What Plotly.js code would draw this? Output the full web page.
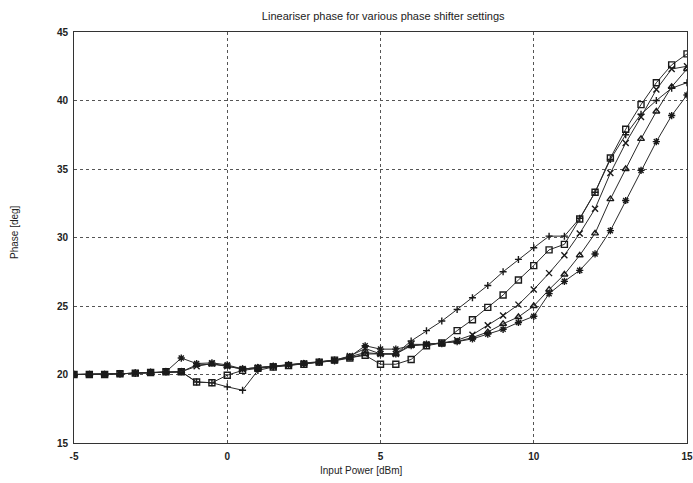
<!DOCTYPE html>
<html>
<head>
<meta charset="utf-8">
<script src="https://cdn.plot.ly/plotly-3.0.1.min.js"></script>
<style>html,body{margin:0;padding:0;background:#fff;}#chart{width:693px;height:483px;}</style>
</head>
<body>
<div id="chart"></div>
<script>
// Input power [dBm]
const inputPower = [-5,-4.5,-4,-3.5,-3,-2.5,-2,-1.5,-1,-0.5,0,0.5,1,1.5,2,2.5,3,3.5,4,4.5,5,5.5,6,6.5,7,7.5,8,8.5,9,9.5,10,10.5,11,11.5,12,12.5,13,13.5,14,14.5,15];

// Phase [deg] for each phase shifter setting
const phasePlus = [20.0,20.0,20.0,20.05,20.1,20.15,20.2,20.2,19.45,19.4,19.1,18.85,20.3,20.55,20.65,20.8,20.9,21.05,21.3,21.6,21.5,21.5,22.45,23.2,23.9,24.75,25.6,26.5,27.5,28.4,29.25,30.1,30.1,31.4,33.3,35.7,37.5,39.0,40.0,40.9,41.3];
const phaseSquare = [20.0,20.0,20.0,20.05,20.1,20.15,20.2,20.2,19.45,19.4,19.95,20.3,20.45,20.55,20.65,20.75,20.9,21.05,21.2,21.4,20.75,20.75,21.1,22.1,22.3,23.2,24.0,24.9,25.8,26.9,27.95,29.1,29.5,31.35,33.3,35.8,37.9,39.7,41.3,42.6,43.4];
const phaseCross = [20.0,20.0,20.0,20.05,20.1,20.15,20.2,20.2,20.6,20.8,20.6,20.4,20.5,20.6,20.7,20.8,20.9,21.05,21.35,21.9,21.5,21.5,22.2,22.2,22.3,22.5,22.9,23.6,24.3,25.1,26.2,27.4,28.7,30.3,32.1,34.7,36.9,38.8,40.8,42.3,42.5];
const phaseTriangle = [20.0,20.0,20.0,20.05,20.1,20.15,20.2,20.2,20.7,20.75,20.6,20.4,20.5,20.6,20.7,20.8,20.9,21.0,21.2,21.5,21.5,21.5,22.1,22.2,22.25,22.4,22.7,23.1,23.7,24.2,25.0,26.2,27.3,28.7,30.3,32.8,35.0,37.2,39.2,41.0,42.3];
const phaseStar = [20.0,20.0,20.0,20.05,20.1,20.15,20.2,21.2,20.8,20.85,20.7,20.4,20.5,20.6,20.7,20.8,20.9,21.0,21.3,22.1,21.85,21.85,22.1,22.2,22.25,22.4,22.6,22.95,23.3,23.8,24.25,25.9,26.8,27.6,28.8,30.5,32.7,34.9,37.0,38.9,40.4];

const seriesList = [
  {y: phasePlus, symbol: 'cross-thin-open', size: 5},
  {y: phaseSquare, symbol: 'square-open', size: 6},
  {y: phaseCross, symbol: 'x-thin-open', size: 6},
  {y: phaseTriangle, symbol: 'triangle-up-open', size: 6},
  {y: phaseStar, symbol: 'asterisk-open', size: 6}
];

const traces = seriesList.map(s => ({
  x: inputPower,
  y: s.y,
  type: 'scatter',
  mode: 'lines+markers',
  line: {color: '#2a2a2a', width: 1},
  marker: {symbol: s.symbol, size: s.size, color: '#1a1a1a', line: {color: '#1a1a1a', width: 1.4}},
  showlegend: false
}));

const fam = 'Liberation Sans, Arial, sans-serif';
const tickFont = {family: fam, size: 10, color: '#222', weight: 'bold'};
const labelFont = {family: fam, size: 10, color: '#222', weight: 'normal'};

const layout = {
  width: 693, height: 483,
  margin: {l: 74, r: 6, t: 32, b: 40},
  paper_bgcolor: '#fff', plot_bgcolor: '#fff',
  font: {family: fam, size: 10, color: '#222'},
  title: {text: 'Lineariser phase for various phase shifter settings', font: {family: fam, size: 11, color: '#222', weight: 'normal'}, xref: 'container', x: 0.553, xanchor: 'center', yref: 'container', y: 0.967, yanchor: 'middle'},
  xaxis: {
    range: [-5, 15], tickvals: [-5, 0, 5, 10, 15], ticktext: ['-5','0','5','10','15'],
    showline: true, mirror: true, linecolor: '#333', linewidth: 1,
    showgrid: true, gridcolor: '#555', griddash: 'dot', gridwidth: 1,
    zeroline: false, ticks: 'outside', ticklen: 4, tickcolor: 'rgba(0,0,0,0)',
    tickfont: tickFont
  },
  yaxis: {
    range: [15, 45], tickvals: [15, 20, 25, 30, 35, 40, 45],
    showline: true, mirror: true, linecolor: '#333', linewidth: 1,
    showgrid: true, gridcolor: '#555', griddash: 'dot', gridwidth: 1,
    zeroline: false, ticks: 'outside', ticklen: 3, tickcolor: 'rgba(0,0,0,0)',
    tickfont: tickFont
  },
  annotations: [
    {text: 'Input Power [dBm]', xref: 'paper', yref: 'paper', x: (361 - 74) / 613, y: -(470 - 443) / 411, xanchor: 'center', yanchor: 'middle', showarrow: false, font: labelFont},
    {text: 'Phase [deg]', xref: 'paper', yref: 'paper', x: -(74 - 15) / 613, y: (443 - 232) / 411, xanchor: 'center', yanchor: 'middle', textangle: -90, showarrow: false, font: labelFont}
  ]
};

Plotly.newPlot('chart', traces, layout, {staticPlot: true, displayModeBar: false});
</script>
</body>
</html>
